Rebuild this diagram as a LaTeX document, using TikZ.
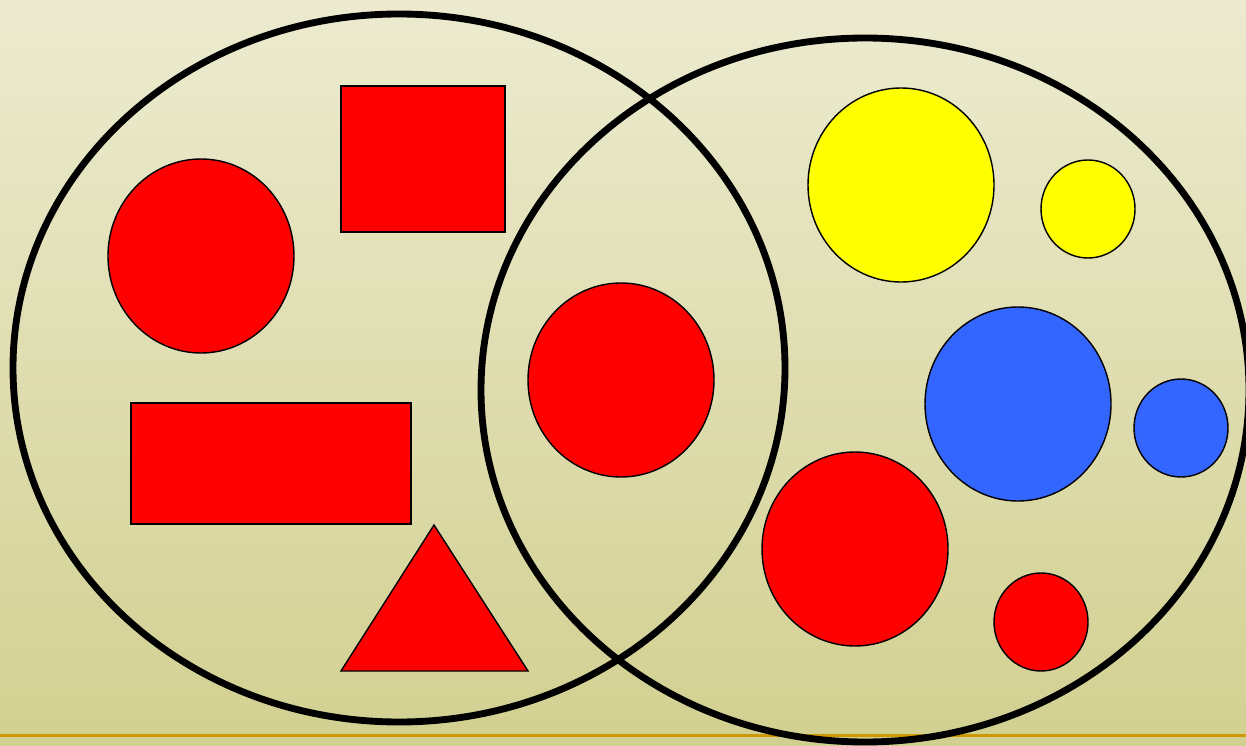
\documentclass[tikz,border=0pt]{standalone}
\usepackage{xcolor}
\definecolor{bgtop}{RGB}{236, 235, 208}
\definecolor{bgbottom}{RGB}{210, 208, 144}
\definecolor{goldline}{RGB}{204, 153, 0}
\definecolor{shapered}{RGB}{255, 0, 0}
\definecolor{shapeyellow}{RGB}{255, 255, 0}
\definecolor{shapeblue}{RGB}{51, 102, 255}
\usepackage{tikz}

\tikzset{
  setline/.style={line width=3.9pt, draw=black},
  piece/.style={line width=0.8pt, draw=black},
  redpiece/.style={piece, fill=shapered},
  yellowpiece/.style={piece, fill=shapeyellow},
  bluepiece/.style={piece, fill=shapeblue}
}

\begin{document}
\begin{tikzpicture}[x=0.02cm, y=-0.02cm]
    % background
    \useasboundingbox (0,0) rectangle (1246,746);
    \shade[top color=bgtop, bottom color=bgbottom] (0,0) rectangle (1246,746);
    \clip (0,0) rectangle (1246,746);

    % bottom rule
    \draw[goldline, line width=2.2pt] (0,735.5) -- (1246,735.5);

    % left set
    \draw[redpiece] (201,256) ellipse [x radius=93, y radius=97];
    \draw[redpiece] (341,86) rectangle (505,232);
    \draw[redpiece] (131,403) rectangle (411,524);
    \draw[redpiece] (434,525) -- (528,671) -- (341,671) -- cycle;

    % common part
    \draw[redpiece] (621,380) ellipse [x radius=93, y radius=97];

    % right set
    \draw[yellowpiece] (901,185) ellipse [x radius=93, y radius=97];
    \draw[yellowpiece] (1088,209) ellipse [x radius=47, y radius=49];
    \draw[bluepiece] (1018,404) ellipse [x radius=93, y radius=97];
    \draw[bluepiece] (1181,428) ellipse [x radius=47, y radius=49];
    \draw[redpiece] (855,549) ellipse [x radius=93, y radius=97];
    \draw[redpiece] (1041,622) ellipse [x radius=47, y radius=49];

    % the two sets
    \draw[setline] (399,368) ellipse [x radius=386, y radius=354];
    \draw[setline] (865,390) ellipse [x radius=384, y radius=352];
  \end{tikzpicture}
\end{document}
